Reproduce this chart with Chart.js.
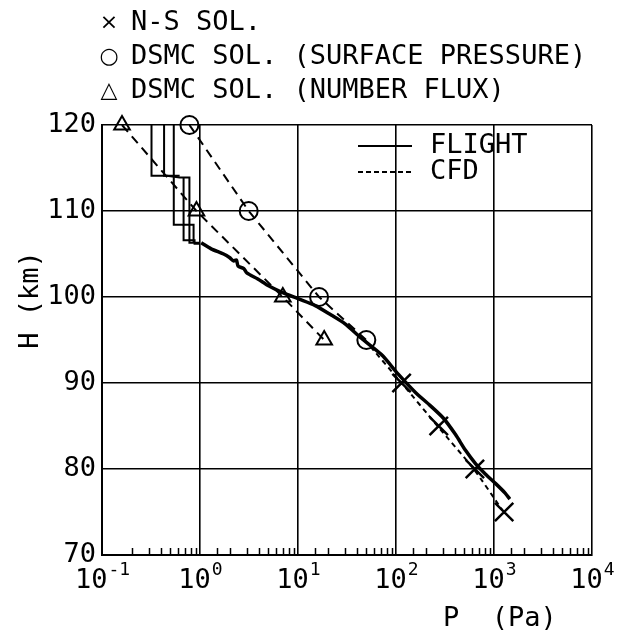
<!DOCTYPE html>
<html>
<head>
<meta charset="utf-8">
<script src="https://cdn.jsdelivr.net/npm/chart.js@4.4.1/dist/chart.umd.min.js"></script>
<style>
  html, body { margin: 0; padding: 0; background: #fff; }
</style>
</head>
<body>
<canvas id="pChart" width="620" height="633"></canvas>
<script>
    /*global Chart*/
    // flight data: smooth part
    var flightP = [1.03, 1.3, 1.74, 2.0, 2.2, 2.35, 2.45, 2.8, 3.0, 3.89, 5.0, 6.69, 10, 15, 21.8, 30, 44.3, 71, 106, 158, 222, 305, 405, 510, 650, 820, 1040, 1300, 1450];
    var flightH = [106.3, 105.6, 105.0, 104.6, 104.2, 104.3, 103.6, 103.3, 102.8, 102.1, 101.3, 100.6, 99.8, 99.0, 97.9, 96.9, 95.2, 93.3, 91.0, 88.9, 87.4, 85.9, 84.0, 82.2, 80.6, 79.4, 78.3, 77.2, 76.5];

    // flight data: the step traces at high altitude
    var step1P = [0.32, 0.32, 0.46, 0.62, 0.78, 0.78, 1.0];
    var step1H = [120, 114.1, 114.1, 113.9, 113.9, 106.3, 106.3];
    var step2P = [0.43, 0.43, 0.62];
    var step2H = [120, 114.1, 114.1];
    var step3P = [0.54, 0.54, 0.68, 0.68, 0.88, 0.88, 1.0];
    var step3H = [120, 108.4, 108.4, 106.6, 106.6, 106.2, 106.2];
    var step4P = [0.68, 0.68, 0.86, 0.86];
    var step4H = [113.9, 108.4, 108.4, 106.4];

    var cfdP = [48, 114, 265, 620, 1220];
    var cfdH = [95, 90, 85, 80, 75.2];

    var nsP = [114, 273, 638, 1268];
    var nsH = [90, 85, 80, 75];

    var pressP = [0.78, 3.14, 16.4, 49.8];
    var pressH = [120, 110, 100, 95];

    var fluxP = [0.16, 0.92, 7.0, 18.5];
    var fluxH = [120, 110, 100, 95];

    var xDecades = [0.1, 1, 10, 100, 1000, 10000];
    var xExponents = ["-1", "0", "1", "2", "3", "4"];
    var yTicks = [70, 80, 90, 100, 110, 120];

    var topLegend = [
        ["\u00d7", "N-S SOL."],
        ["\u25cb", "DSMC SOL. (SURFACE PRESSURE)"],
        ["\u25b3", "DSMC SOL. (NUMBER FLUX)"]
    ];

    var FONT = '"DejaVu Sans Mono", monospace';

    function pts(xs, ys) {
        return xs.map(function (x, i) { return {x: x, y: ys[i]}; });
    }

    function isDecade(v) {
        var l = Math.log10(v);
        return Math.abs(l - Math.round(l)) < 1e-6;
    }

    function stepSet(xs, ys) {
        return {
            data: pts(xs, ys),
            showLine: true,
            borderColor: '#000',
            borderWidth: 2,
            pointRadius: 0,
            tension: 0,
            clip: false
        };
    }

    var overlay = {
        id: 'overlay',
        afterDraw: function (chart) {
            var ctx = chart.ctx;
            var xs = chart.scales.x;
            var a = chart.chartArea;
            ctx.save();
            ctx.fillStyle = '#000';
            ctx.strokeStyle = '#000';

            // minor ticks inside the bottom axis
            ctx.lineWidth = 1.5;
            xs.ticks.forEach(function (t) {
                if (isDecade(t.value)) return;
                var px = Math.round(xs.getPixelForValue(t.value)) + 0.5;
                ctx.beginPath();
                ctx.moveTo(px, a.bottom);
                ctx.lineTo(px, a.bottom - 7);
                ctx.stroke();
            });

            // x tick labels 10^n
            ctx.textBaseline = 'alphabetic';
            xDecades.forEach(function (v, i) {
                var px = xs.getPixelForValue(v);
                ctx.font = '27px ' + FONT;
                var w1 = ctx.measureText('10').width;
                ctx.font = '18px ' + FONT;
                var w2 = ctx.measureText(xExponents[i]).width;
                var x0 = px - (w1 + w2) / 2;
                ctx.font = '27px ' + FONT;
                ctx.textAlign = 'left';
                ctx.fillText('10', x0, a.bottom + 33);
                ctx.font = '18px ' + FONT;
                ctx.fillText(xExponents[i], x0 + w1 + 1, a.bottom + 20);
            });

            // axis titles
            ctx.font = '27px ' + FONT;
            ctx.textAlign = 'left';
            ctx.fillText('P  (Pa)', 443, 626);
            ctx.save();
            ctx.translate(38, 300);
            ctx.rotate(-Math.PI / 2);
            ctx.textAlign = 'center';
            ctx.fillText('H (km)', 0, 0);
            ctx.restore();

            // symbol legend above the plot
            ctx.textBaseline = 'middle';
            topLegend.forEach(function (row, i) {
                var y = 23 + i * 34;
                ctx.font = '22px "DejaVu Sans", sans-serif';
                ctx.textAlign = 'center';
                ctx.fillText(row[0], 109, y);
                ctx.font = '27px ' + FONT;
                ctx.textAlign = 'left';
                ctx.fillText(row[1], 131, y);
            });

            // line legend in the plot
            ctx.lineWidth = 2;
            ctx.beginPath();
            ctx.moveTo(358, 146);
            ctx.lineTo(412, 146);
            ctx.stroke();
            ctx.setLineDash([5, 3]);
            ctx.beginPath();
            ctx.moveTo(358, 172);
            ctx.lineTo(412, 172);
            ctx.stroke();
            ctx.setLineDash([]);
            ctx.font = '27px ' + FONT;
            ctx.fillText('FLIGHT', 430, 146);
            ctx.fillText('CFD', 430, 172);

            ctx.restore();
        }
    };

    var datasets = [
        {
            label: 'FLIGHT',
            data: pts(flightP, flightH),
            showLine: true,
            borderColor: '#000',
            borderWidth: 3.5,
            pointRadius: 0,
            tension: 0.25,
            clip: false
        },
        stepSet(step1P, step1H),
        stepSet(step2P, step2H),
        stepSet(step3P, step3H),
        stepSet(step4P, step4H),
        {
            label: 'CFD',
            data: pts(cfdP, cfdH),
            showLine: true,
            borderColor: '#000',
            borderWidth: 2,
            borderDash: [5, 4],
            pointRadius: 0,
            tension: 0.2,
            clip: false
        },
        {
            label: 'DSMC SOL. (SURFACE PRESSURE)',
            data: pts(pressP, pressH),
            showLine: true,
            borderColor: '#000',
            borderWidth: 2,
            borderDash: [9, 6],
            pointStyle: 'circle',
            pointRadius: 9,
            pointBorderWidth: 2,
            pointBackgroundColor: 'rgba(0,0,0,0)',
            pointBorderColor: '#000',
            clip: false
        },
        {
            label: 'DSMC SOL. (NUMBER FLUX)',
            data: pts(fluxP, fluxH),
            showLine: true,
            borderColor: '#000',
            borderWidth: 2,
            borderDash: [9, 6],
            pointStyle: 'triangle',
            pointRadius: 9,
            pointBorderWidth: 2,
            pointBackgroundColor: 'rgba(0,0,0,0)',
            pointBorderColor: '#000',
            clip: false
        },
        {
            label: 'N-S SOL.',
            data: pts(nsP, nsH),
            showLine: false,
            pointStyle: 'crossRot',
            pointRadius: 13,
            pointBorderWidth: 2.5,
            pointBorderColor: '#000',
            clip: false
        }
    ];

    var ctx = document.getElementById("pChart").getContext("2d");
    new Chart(ctx, {
        type: 'scatter',
        data: {datasets: datasets},
        options: {
            responsive: false,
            animation: false,
            devicePixelRatio: 1,
            layout: {padding: {left: 0, right: 28, top: 125, bottom: 0}},
            plugins: {legend: {display: false}, tooltip: {enabled: false}},
            scales: {
                x: {
                    type: 'logarithmic',
                    min: 0.1,
                    max: 10000,
                    border: {color: '#000', width: 2},
                    grid: {
                        color: function (c) { return c.tick && isDecade(c.tick.value) ? '#000' : 'rgba(0,0,0,0)'; },
                        lineWidth: 1.6,
                        drawTicks: false
                    },
                    ticks: {autoSkip: false, maxRotation: 0, callback: function () { return ''; }},
                    afterFit: function (s) { s.height = 78; }
                },
                y: {
                    min: 70,
                    max: 120,
                    afterBuildTicks: function (s) { s.ticks = yTicks.map(function (v) { return {value: v}; }); },
                    border: {color: '#000', width: 2},
                    grid: {color: '#000', lineWidth: 1.6, drawTicks: false},
                    ticks: {color: '#000', padding: 6, font: {family: FONT, size: 27}},
                    afterFit: function (s) { s.width = 102; }
                }
            }
        },
        plugins: [overlay]
    });
</script>
</body>
</html>
